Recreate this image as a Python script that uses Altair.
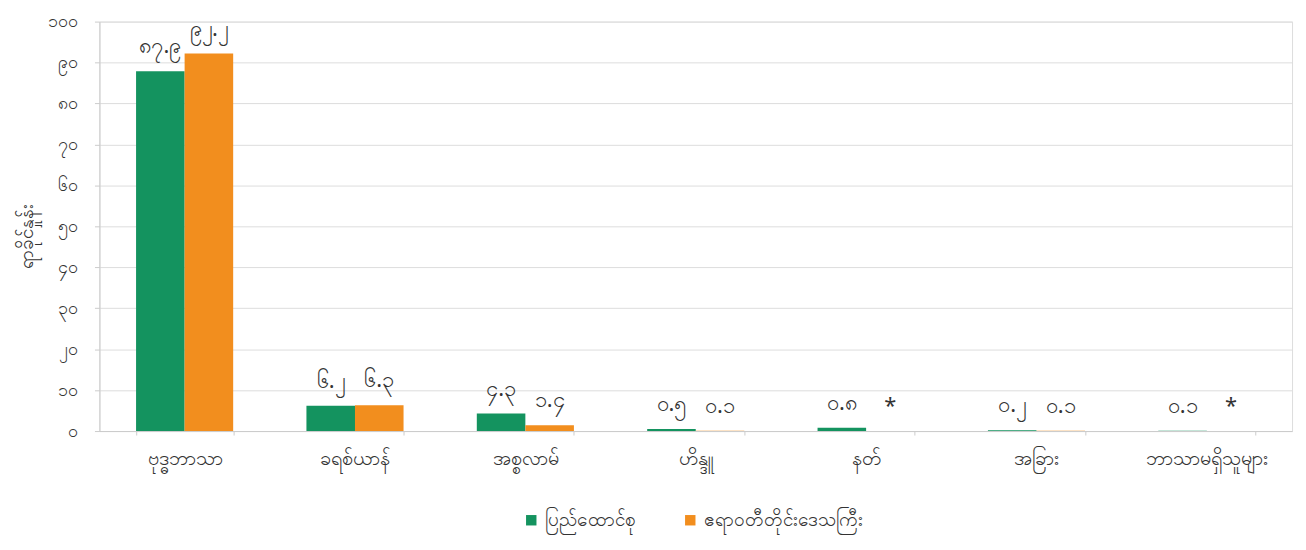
import altair as alt
import pandas as pd

categories = ["ဗုဒ္ဓဘာသာ", "ခရစ်ယာန်", "အစ္စလာမ်", "ဟိန္ဒူ", "နတ်", "အခြား", "ဘာသာမရှိသူများ"]
series_names = ["ပြည်ထောင်စု", "ဧရာဝတီတိုင်းဒေသကြီး"]
union_values = [87.9, 6.2, 4.3, 0.5, 0.8, 0.2, 0.1]
ayeyarwady_values = [92.2, 6.3, 1.4, 0.1, 0.0, 0.1, 0.0]
union_labels = ["၈၇.၉", "၆.၂", "၄.၃", "၀.၅", "၀.၈", "၀.၂", "၀.၁"]
ayeyarwady_labels = ["၉၂.၂", "၆.၃", "၁.၄", "၀.၁", "*", "၀.၁", "*"]
y_tick_values = [0, 10, 20, 30, 40, 50, 60, 70, 80, 90, 100]
y_tick_labels = ["၀", "၁၀", "၂၀", "၃၀", "၄၀", "၅၀", "၆၀", "၇၀", "၈၀", "၉၀", "၁၀၀"]
y_title = "ရာခိုင်နှုန်း"
colors = ["#14935f", "#f28e1e"]

rows = []
for i, c in enumerate(categories):
    rows.append({"cat": c, "series": series_names[0], "order": 0,
                 "value": union_values[i], "label": union_labels[i]})
    rows.append({"cat": c, "series": series_names[1], "order": 1,
                 "value": ayeyarwady_values[i], "label": ayeyarwady_labels[i]})
df = pd.DataFrame(rows)

FONT = "Noto Sans"
label_expr = "[" + ",".join(f"'{s}'" for s in y_tick_labels) + "][round(datum.value/10)]"

x_enc = alt.X("cat:N", sort=categories, title=None,
              scale=alt.Scale(paddingInner=0.43, paddingOuter=0.215),
              axis=alt.Axis(labelAngle=0, labelFontSize=20, labelColor="#333333",
                            labelPadding=14, tickBand="extent", tickSize=4,
                            tickColor="#cccccc", domainColor="#cccccc",
                            labelFont=FONT, labelLimit=0))
xoff = alt.XOffset("series:N", sort=series_names)
color_enc = alt.Color("series:N", sort=series_names,
                      scale=alt.Scale(domain=series_names, range=colors),
                      legend=alt.Legend(title=None, orient="none", direction="horizontal",
                                        legendX=425, legendY=492, symbolType="square",
                                        symbolSize=110, labelFontSize=19, columnPadding=45,
                                        labelFont=FONT, labelColor="#333333", labelLimit=0,
                                        symbolStrokeWidth=0))

bars = alt.Chart(df).mark_bar().encode(
    x=x_enc,
    xOffset=xoff,
    y=alt.Y("value:Q", title=y_title,
            scale=alt.Scale(domain=[0, 100], nice=False),
            axis=alt.Axis(values=y_tick_values, labelExpr=label_expr, labelFontSize=18,
                          labelColor="#333333", labelPadding=17, tickSize=5,
                          tickColor="#cccccc", domainColor="#cccccc", gridColor="#dddddd",
                          titleFontSize=19, titleFontWeight="normal", titleColor="#333333",
                          titleX=-73, titleY=216, titleBaseline="middle",
                          titleFont=FONT, labelFont=FONT)),
    color=color_enc,
)

texts = alt.Chart(df).mark_text(dy=-25, fontSize=22, color="#333333", font=FONT).encode(
    x=alt.X("cat:N", sort=categories),
    xOffset=xoff,
    y=alt.Y("value:Q"),
    text="label:N",
)

chart = (bars + texts).properties(
    width=1200, height=412,
    autosize=alt.AutoSizeParams(type="none"),
    padding={"left": 92, "top": 12, "right": 6, "bottom": 118},
).configure_view(stroke=None).configure(background="white")

chart.save("out.html", embed_options={"renderer": "svg", "actions": False})
